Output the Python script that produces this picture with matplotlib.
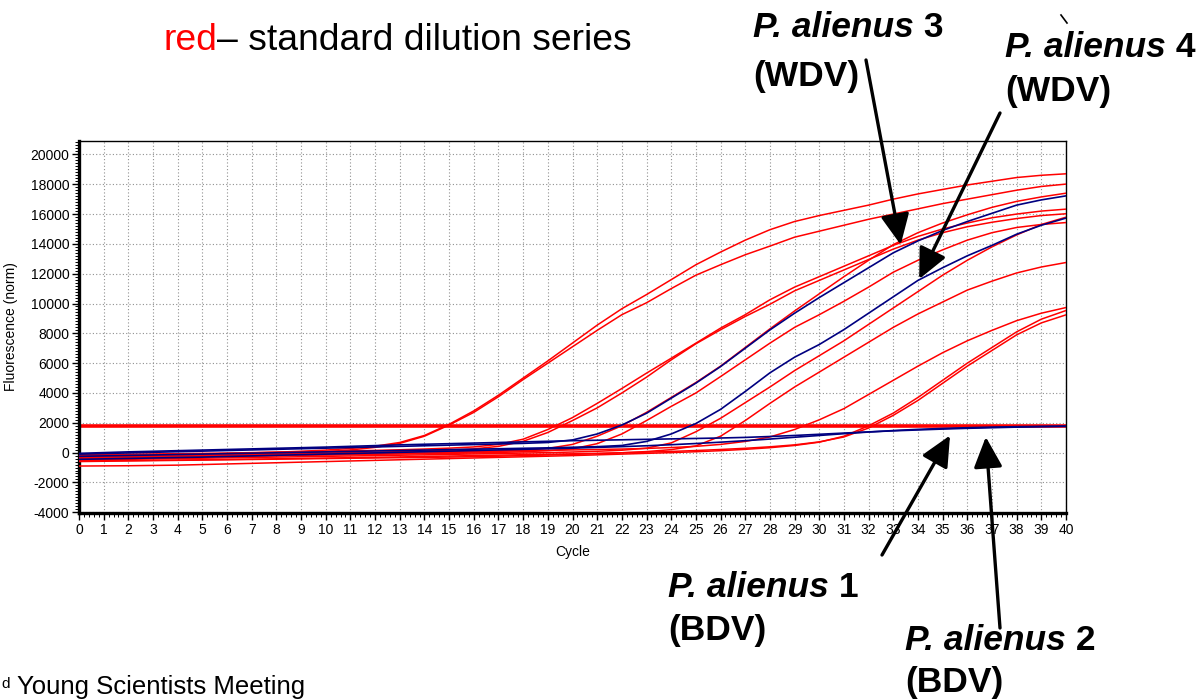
import matplotlib
matplotlib.use('Agg')
import matplotlib.pyplot as plt
from matplotlib.ticker import MultipleLocator

plt.rcParams['font.family'] = 'Liberation Sans'
plt.rcParams['axes.unicode_minus'] = False

# qPCR amplification curves, normalised fluorescence per cycle
cycles = list(range(41))

red_a1 = [-250, -230, -200, -170, -140, -100, -60, -20, 30, 90,
          170, 280, 430, 680, 1150, 1900, 2800, 3850, 5000, 6150,
          7350, 8550, 9650, 10600, 11600, 12600, 13450, 14250, 14950, 15500,
          15900, 16250, 16600, 17000, 17350, 17650, 17950, 18200, 18450, 18600, 18700]
red_a2 = [-400, -380, -350, -320, -290, -250, -210, -160, -100, -30,
          60, 180, 350, 620, 1100, 1850, 2700, 3750, 4900, 6000,
          7100, 8200, 9250, 10050, 11000, 11900, 12600, 13270, 13850, 14450,
          14850, 15250, 15650, 16000, 16350, 16700, 17000, 17300, 17600, 17850, 18010]
red_b1 = [-150, -130, -110, -90, -70, -50, -30, 0, 30, 60,
          90, 120, 150, 190, 240, 300, 380, 550, 900, 1550,
          2350, 3300, 4300, 5330, 6330, 7340, 8350, 9250, 10250, 11100,
          11800, 12500, 13200, 13900, 14500, 15000, 15400, 15750, 16000, 16200, 16330]
red_b2 = [-300, -280, -260, -240, -220, -200, -170, -140, -110, -80,
          -50, -20, 20, 60, 110, 170, 250, 420, 760, 1350,
          2150, 3000, 4000, 5060, 6220, 7300, 8240, 9130, 9950, 10850,
          11550, 12250, 12950, 13650, 14250, 14750, 15150, 15450, 15700, 15900, 16020]
red_c1 = [-450, -420, -390, -360, -330, -300, -270, -240, -210, -180,
          -150, -120, -90, -60, -30, 0, 40, 90, 160, 280,
          550, 1100, 1800, 2700, 3700, 4700, 5800, 7050, 8300, 9500,
          10650, 11800, 12900, 13950, 14750, 15400, 15950, 16450, 16850, 17150, 17400]
red_c2 = [-350, -330, -310, -290, -270, -250, -230, -210, -190, -170,
          -150, -130, -110, -90, -70, -50, -20, 10, 60, 130,
          250, 600, 1250, 2150, 3100, 4000, 5100, 6220, 7340, 8400,
          9250, 10150, 11100, 12100, 12900, 13600, 14250, 14750, 15100, 15300, 15430]
red_d1 = [-500, -475, -450, -425, -400, -375, -350, -325, -300, -275,
          -250, -225, -200, -175, -150, -120, -90, -60, -30, 0,
          40, 90, 160, 300, 650, 1400, 2300, 3350, 4400, 5500,
          6500, 7500, 8600, 9700, 10800, 11900, 12900, 13800, 14600, 15300, 15790]
red_d2 = [-600, -580, -560, -540, -520, -500, -480, -460, -440, -420,
          -400, -380, -360, -340, -320, -300, -270, -240, -200, -160,
          -120, -70, -10, 70, 200, 450, 1100, 2150, 3300, 4400,
          5400, 6400, 7400, 8400, 9300, 10100, 10900, 11500, 12050, 12450, 12750]
red_e = [-200, -190, -175, -160, -145, -130, -110, -90, -70, -50,
         -30, -10, 10, 30, 50, 70, 90, 110, 130, 150,
         180, 210, 240, 280, 340, 420, 550, 750, 1050, 1550,
         2200, 2950, 3900, 4850, 5800, 6700, 7500, 8200, 8850, 9350, 9730]
red_f1 = [-900, -890, -880, -860, -840, -800, -760, -720, -680, -640,
          -600, -560, -520, -480, -440, -400, -360, -320, -280, -240,
          -200, -150, -100, -50, 0, 60, 130, 220, 330, 480,
          700, 1100, 1800, 2650, 3700, 4850, 6000, 7050, 8100, 8950, 9530]
red_f2 = [-550, -540, -530, -515, -500, -480, -460, -440, -415, -390,
          -365, -340, -315, -290, -260, -230, -200, -170, -140, -110,
          -80, -50, -10, 30, 80, 140, 210, 290, 390, 520,
          720, 1050, 1650, 2500, 3500, 4650, 5800, 6850, 7900, 8700, 9240]

blue_wdv3 = [-100, -60, -20, 20, 60, 100, 140, 180, 220, 260,
             300, 340, 380, 420, 460, 500, 540, 580, 620, 680,
             850, 1250, 1850, 2640, 3650, 4660, 5770, 7000, 8230, 9350,
             10400, 11400, 12400, 13400, 14200, 14900, 15500, 16050, 16600, 16950, 17220]
blue_wdv4 = [-250, -220, -190, -160, -130, -100, -70, -40, -10, 20,
             50, 80, 110, 140, 170, 200, 230, 260, 290, 320,
             360, 400, 480, 750, 1250, 1950, 2900, 4100, 5350, 6400,
             7250, 8250, 9350, 10450, 11550, 12400, 13200, 13900, 14650, 15250, 15730]
blue_bdv1 = [-50, 0, 50, 90, 130, 170, 210, 250, 290, 330,
             370, 420, 470, 520, 560, 600, 640, 680, 720, 760,
             800, 830, 860, 890, 920, 950, 980, 1020, 1080, 1150,
             1230, 1310, 1390, 1460, 1520, 1580, 1630, 1670, 1710, 1740, 1760]
blue_bdv2 = [-450, -420, -390, -360, -330, -300, -260, -220, -180, -140,
             -100, -60, -20, 20, 60, 100, 140, 180, 220, 260,
             300, 350, 400, 460, 530, 610, 700, 800, 910, 1030,
             1150, 1270, 1380, 1480, 1560, 1620, 1670, 1710, 1740, 1760, 1780]

threshold = 1800

red_series = [red_a1, red_a2, red_b1, red_b2, red_c1, red_c2,
              red_d1, red_d2, red_e, red_f1, red_f2]
blue_series = [blue_wdv3, blue_wdv4, blue_bdv1, blue_bdv2]

W, H = 1204, 700
fig = plt.figure(figsize=(W / 100, H / 100), dpi=100)
ax = fig.add_axes([79 / W, 1 - 513 / H, 987 / W, 372 / H])

ax.axhline(threshold, color='#ff0000', lw=2.6, zorder=2)
for s in red_series:
    ax.plot(cycles, s, color='#ff0000', lw=1.1, zorder=3)
for s in blue_series:
    ax.plot(cycles, s, color='#000080', lw=1.2, zorder=4)

ax.set_xlim(0, 40)
ax.set_ylim(-4050, 20900)
ax.set_xticks(range(0, 41))
ax.set_yticks(range(-4000, 20001, 2000))
ax.xaxis.set_minor_locator(MultipleLocator(0.2))
ax.yaxis.set_minor_locator(MultipleLocator(200))
ax.tick_params(which='major', length=5, width=1, labelsize=10, pad=2)
ax.tick_params(which='minor', length=3, width=0.7)
ax.grid(True, which='major', color='#909090', linestyle=(0, (1, 2)), lw=0.8)
ax.set_axisbelow(True)

ax.spines['left'].set_linewidth(2.4)
ax.spines['bottom'].set_linewidth(2.4)
ax.spines['top'].set_linewidth(1.0)
ax.spines['right'].set_linewidth(1.0)

ax.set_xlabel('Cycle', fontsize=10)
ax.set_ylabel('Fluorescence (norm)', fontsize=10)
ax.xaxis.set_label_coords(0.5, -0.085)
ax.yaxis.set_label_coords(-0.062, 0.5)


def fx(x):
    return x / W


def fy(y):
    return 1 - y / H


def two_part(x, y, first, second, size, c1='black', style1='normal',
             weight='normal'):
    t = fig.text(fx(x), fy(y), first, fontsize=size, color=c1,
                 style=style1, weight=weight, va='baseline')
    fig.canvas.draw()
    bb = t.get_window_extent()
    fig.text(bb.x1 / W, fy(y), second, fontsize=size, color='black',
             weight=weight, va='baseline')


two_part(163, 50, 'red', '\u2013 standard dilution series', 26.8, c1='#ff0000')

two_part(753, 37, 'P. alienus', ' 3', 25.5, style1='italic', weight='bold')
fig.text(fx(753), fy(86), '(WDV)', fontsize=25.5, weight='bold', va='baseline')
two_part(1005, 57, 'P. alienus', ' 4', 25.5, style1='italic', weight='bold')
fig.text(fx(1005), fy(101), '(WDV)', fontsize=25.5, weight='bold', va='baseline')
two_part(668, 597, 'P. alienus', ' 1', 25.5, style1='italic', weight='bold')
fig.text(fx(668), fy(640), '(BDV)', fontsize=25.5, weight='bold', va='baseline')
two_part(905, 650, 'P. alienus', ' 2', 25.5, style1='italic', weight='bold')
fig.text(fx(905), fy(692), '(BDV)', fontsize=25.5, weight='bold', va='baseline')

fig.text(fx(1), fy(688), 'd', fontsize=11, va='baseline')
fig.text(fx(17), fy(694), 'Young Scientists Meeting', fontsize=18.5,
         va='baseline')

# arrows: tip in data coords, tail in figure pixels
arrows = [((33.3, 13940), (866, H - 60)),
          ((34.05, 11640), (1000, H - 113)),
          ((35.3, 1150), (882, H - 555)),
          ((36.75, 1050), (1000, H - 628))]
for tip, tail in arrows:
    ax.annotate('', xy=tip, xycoords='data', xytext=tail,
                textcoords='figure pixels', annotation_clip=False,
                arrowprops=dict(arrowstyle='-|>,head_length=0.85,head_width=0.4',
                                color='black', lw=2.4, mutation_scale=22,
                                shrinkA=0, shrinkB=0), zorder=6)

# small stray stroke above "alienus 4"
fig.add_artist(plt.Line2D([fx(1061), fx(1067)], [fy(15), fy(23)],
                          color='black', lw=1.2))

fig.savefig('out.png', dpi=100)
plt.close(fig)
